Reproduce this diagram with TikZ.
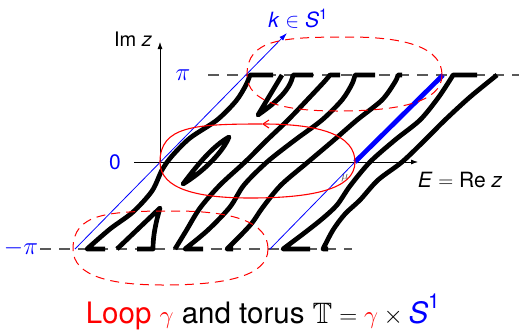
\documentclass[tikz,border=0pt]{standalone}
\usepackage{amsmath}
\usepackage{amssymb}
\usepackage[no-math]{fontspec}
\setmainfont{TeX Gyre Heros}
\usetikzlibrary{arrows.meta}
\definecolor{myblue}{RGB}{0,0,255}
\definecolor{myred}{RGB}{255,0,0}
\newcommand{\loopshape}{(355,162) .. controls (355,135) and (320,124) .. (262,124) .. controls (195,124) and (160,126) .. (160,162) .. controls (160,190) and (200,198) .. (250,198) .. controls (310,198) and (355,190) .. (355,162)}
\begin{document}
\begin{tikzpicture}[x=1pt,y=-1pt,
  bandline/.style={line width=4.7pt, black, line join=round},
  gridline/.style={black!65, line width=1.5pt, dash pattern=on 11pt off 8pt},
  axisline/.style={black, line width=0.8pt, -{Latex[length=7pt,width=5pt]}},
  lbl/.style={inner sep=0pt, font=\fontsize{21}{24}\selectfont},
  pilbl/.style={inner sep=0pt, font=\fontsize{23}{26}\selectfont},
  loopsolid/.style={myred, line width=1.1pt},
  loopdash/.style={myred, line width=1pt, dash pattern=on 9pt off 6pt}]
\useasboundingbox (0,0) rectangle (519,330);
% named points
\coordinate (O) at (160,162);
\coordinate (mu) at (355,162);
\coordinate (kb) at (75,249);
\coordinate (kt) at (287,33);
\coordinate (rb) at (270,249);
\coordinate (rt) at (443,75);
% grid dashed lines
\draw[gridline] (208,75) -- (519,75);
\draw[gridline] (40,249) -- (352,249);
% axes
\draw[axisline] (134,162) -- (418,162);
\draw[axisline] (O) -- (160,42);
% black band curves
\draw[bandline] (105,249) -- plot[smooth] coordinates {(87,249) (110,229) (133,212) (152,191) (162,170) (172,156) (190,138) (217,120) (236,101) (246,85) (250,75)} -- (273,75);
\draw[bandline] (117,249) -- (160,208) .. controls (156,222) and (153,235) .. (153,249) -- (137,249);
\draw[bandline] (183,184) .. controls (198,164) and (213,146) .. (229,137) .. controls (224,150) and (206,170) .. (183,184) -- cycle;
\draw[bandline] (282,75) -- (258,115) .. controls (272,105) and (290,92) .. (293,75) -- (313,75);
\draw[bandline] plot[smooth] coordinates {(175,249) (186,231) (200,208) (220,185) (245,162) (266,141) (288,120) (309,98) (324,82) (330,75)} -- (340,75);
\draw[bandline] (203,249) -- plot[smooth] coordinates {(185,249) (208,230) (230,207) (244,185) (267,162) (295,140) (322,120) (342,100) (352,84) (355,75)} -- (375,75);
\draw[bandline] (233,249) -- plot[smooth] coordinates {(227,249) (240,236) (252,223) (263,207) (281,185) (308,162) (334,140) (357,120) (382,100) (395,82) (398,75)} -- (402,75);
\draw[bandline] (310,249) -- plot[smooth] coordinates {(283,249) (303,234) (322,219) (337,205) (350,186) (370,162) (395,140) (420,120) (438,98) (450,80) (453,75)} -- (477,75);
\draw[bandline] (328,249) -- plot[smooth] coordinates {(323,249) (333,230) (345,214) (360,200) (378,180) (402,162) (425,140) (445,120) (470,97) (497,75)};
% blue lines
\draw[myblue, line width=0.8pt, -{Latex[length=8pt,width=5pt]}] (kb) -- (kt);
\draw[myblue, line width=0.8pt] (rb) -- (mu);
\draw[myblue, line width=4.7pt] (mu) -- (rt);
% red loops
\draw[loopsolid, -{Straight Barb[length=6pt,width=8pt]}] (355,162) .. controls (355,135) and (320,124) .. (262,124);
\draw[loopsolid] (262,124) .. controls (195,124) and (160,126) .. (160,162) .. controls (160,190) and (200,198) .. (250,198) .. controls (310,198) and (355,190) .. (355,162);
\begin{scope}[shift={(87,-87)}]
\draw[loopdash] \loopshape;
\end{scope}
\begin{scope}[shift={(-87,87)}]
\draw[loopdash] \loopshape;
\end{scope}
% labels
\node[inner sep=0pt, anchor=base, font=\fontsize{20}{24}\selectfont] (imz) at (133,46) {Im \textit{z}};
\node[lbl, anchor=base, text=myblue] (klab) at (298,27) {\textit{k} $\in$ \textit{S}$^{\text{1}}$};
\node[pilbl, text=myblue] (pilab) at (183,75) {$\pi$};
\node[lbl, text=myblue] (zlab) at (115,162) {0};
\node[pilbl, text=myblue] (mpilab) at (21,248) {$-\pi$};
\node[lbl] (elab) at (460,180) {\textit{E} $=$ Re \textit{z}};
\node[inner sep=0pt, text=black!70, font=\fontsize{12}{14}\selectfont] (mulab) at (345,178) {$\mu$};
\node[inner sep=0pt, anchor=base, font=\fontsize{29.5}{35}\selectfont] (cap) at (263,323) {\textcolor{myred}{Loop $\gamma$} and torus $\mathbb{T}=\textcolor{myred}{\gamma}\times\textcolor{myblue}{\textit{S}^{\text{1}}}$};
\end{tikzpicture}
\end{document}
